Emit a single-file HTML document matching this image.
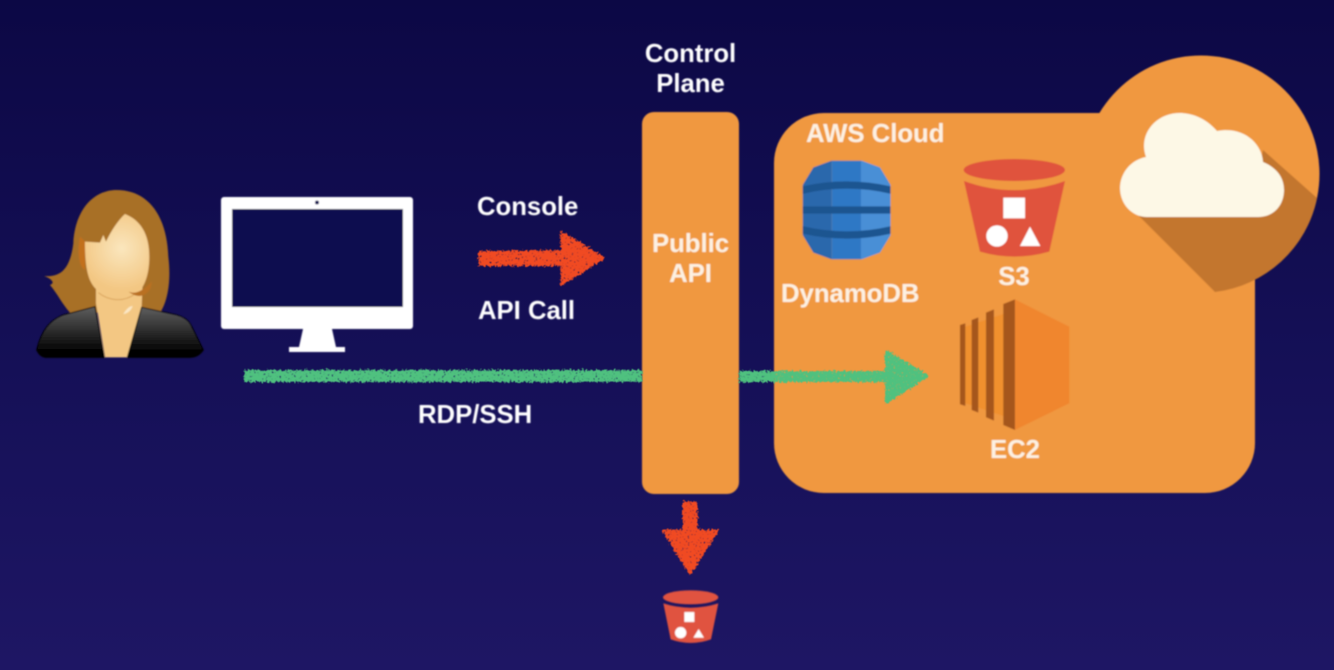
<!DOCTYPE html>
<html>
<head>
<meta charset="utf-8">
<style>
html,body{margin:0;padding:0;width:1334px;height:670px;overflow:hidden;background:#14105a;}
svg{display:block;}
text{font-family:"Liberation Sans",sans-serif;font-weight:bold;font-size:25.7px;fill:#fff;}
.w{fill:#fdf1e2;}
</style>
</head>
<body>
<svg width="1334" height="670" viewBox="0 0 1334 670" xmlns="http://www.w3.org/2000/svg">
<defs>
<linearGradient id="bg" x1="0" y1="0" x2="0" y2="1">
<stop offset="0" stop-color="#0c0845"/>
<stop offset="0.55" stop-color="#151057"/>
<stop offset="1" stop-color="#1e1664"/>
</linearGradient>
<radialGradient id="face" gradientUnits="userSpaceOnUse" cx="305" cy="235" r="125">
<stop offset="0" stop-color="#fae6bd"/>
<stop offset="1" stop-color="#f3c783"/>
</radialGradient>
<linearGradient id="jacket" x1="0" y1="0" x2="0" y2="1">
<stop offset="0" stop-color="#5e5e5e"/>
<stop offset="0.85" stop-color="#050505"/>
<stop offset="1" stop-color="#000"/>
</linearGradient>
<clipPath id="dyn">
<path d="M98 225 L130 172 L185 152 L275 152 L330 172 L362 225 L362 375 L330 428 L275 448 L185 448 L130 428 L98 375 Z"/>
</clipPath>
<filter id="rough" x="-8%" y="-40%" width="116%" height="180%" color-interpolation-filters="sRGB">
<feTurbulence type="fractalNoise" baseFrequency="0.5" numOctaves="2" seed="7" result="n"/>
<feDisplacementMap in="SourceGraphic" in2="n" scale="6" xChannelSelector="R" yChannelSelector="G" result="d"/>
<feColorMatrix in="n" type="matrix" values="0 0 0 0 0  0 0 0 0 0  0 0 0 0 0  6 0 0 0 -3.9" result="h"/>
<feComposite in="d" in2="h" operator="out" result="c"/>
<feGaussianBlur in="c" stdDeviation="0.55"/>
</filter>
<filter id="soft"><feGaussianBlur stdDeviation="0.7"/></filter>
</defs>

<rect width="1334" height="670" fill="url(#bg)"/>

<g filter="url(#soft)">
<!-- AWS Cloud panel -->
<rect x="774" y="113" width="481" height="380" rx="50" fill="#f0983f"/>
<circle cx="1201" cy="174" r="118.5" fill="#f0983f"/>
<path d="M1137 214 L1215 292 A118.500 118.500 0 0 0 1317 198 L1263 150 L1250 217 Z" fill="#c3762d"/>
<path d="M1147 217 L1258 217 C1275 217 1284 204 1284 190 C1284 176 1275 167 1263 162 C1262 143 1243 126 1217 131 C1205 117 1190 113 1180 113 C1155 113 1138 135 1146 157 C1130 160 1120 174 1120 188 C1120 204 1132 217 1147 217 Z" fill="#fdf8e6"/>

<!-- Public API bar -->
<rect x="642" y="112" width="97" height="382" rx="12" fill="#f0983f"/>

<!-- Person -->
<g transform="translate(20 170) scale(0.3333)">
<path d="M72 318 C120 322 150 300 160 220 C165 120 220 60 290 60 C380 60 440 130 445 260 C455 340 440 400 420 428 L150 428 C125 400 115 375 90 345 C108 338 92 325 72 318 Z" fill="#a87026"/>
<path d="M180 200 L195 215 L195 300 C175 290 172 240 180 200 Z" fill="#c2701f"/>
<path d="M228 330 L368 330 L365 410 L322 562 L255 562 L228 400 Z" fill="#f3c783"/>
<path d="M315 132 C360 150 388 190 388 260 C388 320 370 360 345 375 C320 395 280 395 250 375 C215 350 195 330 195 215 L240 218 L250 195 L258 215 C275 180 295 150 315 132 Z" fill="url(#face)"/>
<path d="M235 368 C265 392 310 398 345 372" fill="none" stroke="#d9a35c" stroke-width="3"/>
<path d="M325 365 C350 375 370 360 395 335 C395 360 380 375 360 378 C345 378 335 372 325 365 Z" fill="#b96f22"/>
<path d="M310 432 C320 415 330 408 338 408 C335 420 322 432 310 432 Z" fill="#fbe7c4"/>
<path d="M50 540 C65 480 90 450 130 435 L225 410 L253 562 L75 562 Q60 560 50 540 Z" fill="url(#jacket)" stroke="#000" stroke-width="3"/>
<path d="M365 412 L470 435 Q505 445 515 470 L550 540 Q535 562 510 562 L322 562 Z" fill="url(#jacket)" stroke="#000" stroke-width="3"/>
</g>

<!-- Monitor -->
<rect x="221" y="197" width="192" height="132" rx="3" fill="#fff"/>
<rect x="232" y="209" width="171" height="98" fill="#110c4f"/>
<circle cx="317" cy="202.500" r="2" fill="#110c4f"/>
<path d="M303 329 L332 329 L336 347 L345 347 L345 352 L289 352 L289 347 L299 347 Z" fill="#fff"/>

<!-- DynamoDB -->
<g transform="translate(770 110) scale(0.3333)">
<g clip-path="url(#dyn)">
<rect x="90" y="145" width="95" height="310" fill="#2b68ac"/>
<rect x="185" y="145" width="88" height="310" fill="#2f78c5"/>
<rect x="273" y="145" width="95" height="310" fill="#4a8fd6"/>
<path d="M90 242 Q230 208 370 242" fill="none" stroke="#1c5590" stroke-width="22"/>
<line x1="90" y1="300" x2="370" y2="300" stroke="#1c5590" stroke-width="22"/>
<path d="M90 358 Q230 392 370 358" fill="none" stroke="#1c5590" stroke-width="22"/>
</g>
</g>

<!-- S3 large -->
<g transform="translate(770 110) scale(0.3333)">
<ellipse cx="733" cy="180" rx="152" ry="33" fill="#e0523e"/>
<path d="M582 213 Q733 268 885 213 L838 425 Q733 455 630 425 Z" fill="#e0533c"/>
<rect x="700" y="263" width="65" height="62" fill="#fff"/>
<circle cx="681" cy="378" r="32" fill="#fff"/>
<path d="M780 350 L811 408 L750 408 Z" fill="#fff"/>
</g>

<!-- EC2 -->
<g transform="translate(770 110) scale(0.3333)">
<path d="M735 568 L898 650 L898 880 L735 960 Z" fill="#f0862e"/>
<path d="M586 650 L735 600 L735 930 L586 880 Z" fill="#f0902f"/>
<path d="M570 645 L586 640 L586 888 L570 883 Z" fill="#a5561f"/>
<path d="M605 630 L625 622 L625 908 L605 900 Z" fill="#a5561f"/>
<path d="M648 608 L672 598 L672 932 L648 922 Z" fill="#a5561f"/>
<path d="M700 582 L735 568 L735 960 L700 945 Z" fill="#a5561f"/>
</g>

<!-- Small S3 -->
<g transform="translate(630 480) scale(0.3333)">
<ellipse cx="182" cy="352" rx="83" ry="21" fill="#e0533f"/>
<path d="M100 370 Q182 396 265 370 L243 478 Q182 500 122 478 Z" fill="#e0533f"/>
<rect x="163" y="396" width="30" height="30" fill="#fff"/>
<circle cx="152" cy="458" r="17" fill="#fff"/>
<path d="M206 447 L222 473 L190 473 Z" fill="#fff"/>
</g>

<!-- Labels -->
<text x="690.500" y="62" text-anchor="middle">Control</text>
<text x="690.500" y="92" text-anchor="middle">Plane</text>
<text x="690.500" y="252" text-anchor="middle" class="w">Public</text>
<text x="690.500" y="282" text-anchor="middle" class="w">API</text>
<text x="477" y="215">Console</text>
<text x="478" y="319">API Call</text>
<text x="418" y="423">RDP/SSH</text>
<text x="806" y="142" class="w">AWS Cloud</text>
<text x="781" y="302" class="w">DynamoDB</text>
<text x="1014" y="285" text-anchor="middle" class="w">S3</text>
<text x="1015" y="458" text-anchor="middle" class="w">EC2</text>
</g>

<!-- Arrows -->
<g filter="url(#rough)">
<path d="M479 252 L562 251 L561 232 L604 258 L561 285 L562 265 L479 265 Z" fill="#f04a22" stroke="#f04a22" stroke-width="2" stroke-linejoin="round"/>
</g>
<g filter="url(#rough)">
<path d="M684 503 L696 503 L696 531 L717 531 L690 573 L664 531 L684 531 Z" fill="#f04a22" stroke="#f04a22" stroke-width="3" stroke-linejoin="round"/>
</g>
<g filter="url(#rough)">
<rect x="244" y="370" width="398" height="12" fill="#4fc17f"/>
</g>
<g filter="url(#rough)">
<path d="M740 372 L886 372 L886 351 L928 376 L886 403 L886 381 L740 381 Z" fill="#4fc17f" stroke="#4fc17f" stroke-width="2" stroke-linejoin="round"/>
</g>
</svg>
</body>
</html>
